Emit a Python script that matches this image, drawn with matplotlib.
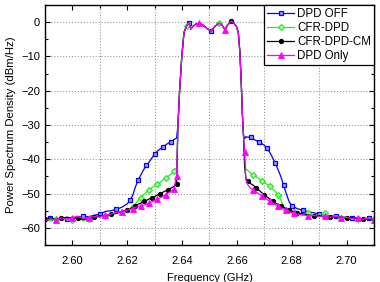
import numpy as np
import matplotlib
matplotlib.use("Agg")
import matplotlib.pyplot as plt
from matplotlib.ticker import MultipleLocator

# frequency grids (GHz)
left_f = [2.590, 2.592, 2.594, 2.596, 2.598, 2.600, 2.602, 2.604, 2.606, 2.608,
          2.610, 2.612, 2.614, 2.616, 2.618, 2.620, 2.621, 2.622, 2.623, 2.624,
          2.625, 2.626, 2.627, 2.628, 2.629, 2.630, 2.631, 2.632, 2.633, 2.634,
          2.635, 2.636, 2.637, 2.638]
edge_l_f = [2.6385, 2.6391, 2.6399, 2.6407]
band_f = [2.6417, 2.6425, 2.6432, 2.6440, 2.6450, 2.6463, 2.6475, 2.6490, 2.6506,
          2.6520, 2.6536, 2.6546, 2.6556, 2.6566, 2.6580, 2.6590, 2.6598]
edge_r_f = [2.6605, 2.6611, 2.6616, 2.6620, 2.6624]
right_f = [2.6628, 2.6633, 2.664, 2.665, 2.666, 2.667, 2.668, 2.669, 2.670, 2.671,
           2.672, 2.673, 2.674, 2.675, 2.676, 2.677, 2.678, 2.679, 2.680, 2.681,
           2.682, 2.684, 2.686, 2.688, 2.690, 2.692, 2.694, 2.696, 2.698, 2.700,
           2.702, 2.704, 2.706, 2.708, 2.710]

# in-band and edge levels (dBm/Hz), common to all curves
edge_l_db = [-30, -20, -10, -3]
band_db = [-1.0, -0.3, -2.0, -1.2, -0.6, -0.3, -0.8, -1.8, -2.6,
           -1.2, -0.3, -0.9, -2.2, -0.8, 0.3, -0.4, -1.2]
edge_r_db = [-3, -9, -18, -27, -33]

# out-of-band skirts per curve
off_left = [-57.8, -57.2, -57.6, -57.0, -57.3, -56.9, -57.1, -56.6, -56.8, -56.3,
            -56.0, -55.2, -55.0, -54.6, -54.0, -53.0, -52.0, -50.5, -48.0, -46.0,
            -44.5, -43.0, -41.8, -40.8, -39.6, -38.5, -37.6, -37.0, -36.5, -35.8,
            -35.3, -34.9, -34.3, -33.8]
off_right = [-34.0, -33.4, -33.6, -33.4, -34.2, -34.5, -35.0, -35.4, -35.9, -36.8,
             -38.0, -39.5, -41.2, -43.0, -45.0, -47.5, -50.0, -52.3, -53.5, -54.0,
             -54.4, -54.9, -55.3, -55.6, -56.0, -56.2, -56.5, -56.4, -56.8, -56.9,
             -57.1, -57.0, -57.4, -57.2, -57.6]

cfr_left = [-57.6, -57.9, -57.3, -57.8, -57.4, -57.6, -57.2, -57.9, -57.5, -56.9,
            -56.6, -56.4, -56.1, -55.7, -55.4, -54.9, -54.6, -53.8, -53.0, -52.0,
            -51.2, -50.3, -49.6, -48.9, -48.3, -47.8, -47.2, -46.7, -46.0, -45.5,
            -44.9, -44.3, -43.5, -42.5]
cfr_right = [-40.0, -42.8, -43.3, -44.0, -44.6, -45.1, -45.6, -46.2, -46.8, -47.3,
             -47.9, -48.6, -49.4, -50.3, -51.8, -53.8, -54.8, -55.2, -55.6, -55.4,
             -55.9, -56.3, -55.7, -56.6, -56.2, -55.8, -56.7, -56.4, -57.0, -56.8,
             -57.3, -57.5, -57.1, -57.6, -57.4]

cm_left = [-57.5, -57.1, -57.6, -57.2, -56.9, -57.3, -57.0, -57.6, -57.2, -56.8,
           -56.5, -56.6, -56.0, -55.8, -55.2, -54.8, -54.5, -54.0, -53.5, -53.1,
           -52.8, -52.3, -52.0, -51.6, -51.2, -50.9, -50.4, -50.0, -49.6, -49.2,
           -48.9, -48.4, -47.9, -47.2]
cm_right = [-42.0, -45.8, -46.4, -47.1, -47.6, -48.3, -49.0, -49.7, -50.4, -51.0,
            -51.6, -52.2, -52.7, -53.2, -53.6, -54.0, -54.4, -54.8, -55.1, -55.4,
            -55.6, -55.9, -56.2, -56.6, -56.4, -56.9, -56.7, -57.0, -56.8, -57.2,
            -57.0, -57.4, -57.3, -57.6, -57.5]

dpd_left = [-57.9, -57.4, -57.7, -57.1, -57.5, -57.0, -56.6, -57.3, -57.0, -56.7,
            -56.9, -56.3, -56.0, -55.5, -55.3, -54.8, -54.6, -54.4, -54.0, -53.8,
            -53.5, -53.4, -53.1, -52.7, -52.4, -52.0, -51.6, -51.2, -50.9, -50.3,
            -49.8, -49.3, -48.6, -45.0]
dpd_right = [-38.0, -46.0, -47.5, -48.4, -49.0, -49.5, -50.1, -50.6, -51.2, -51.7,
             -52.3, -52.8, -53.3, -53.7, -54.1, -54.5, -54.9, -55.2, -55.5, -55.7,
             -56.0, -56.2, -56.5, -56.3, -56.7, -56.5, -56.9, -56.6, -57.1, -56.9,
             -57.3, -57.0, -57.5, -57.2, -57.6]

labels = ['DPD OFF', 'CFR-DPD', 'CFR-DPD-CM', 'DPD Only']

freq = np.array(left_f + edge_l_f + band_f + edge_r_f + right_f)


def full_trace(left, right):
    return np.array(left + edge_l_db + band_db + edge_r_db + right)


series = [full_trace(off_left, off_right), full_trace(cfr_left, cfr_right),
          full_trace(cm_left, cm_right), full_trace(dpd_left, dpd_right)]

n_left = len(left_f)
n_band0 = n_left + len(edge_l_f)
n_right0 = n_band0 + len(band_f) + len(edge_r_f)


def marker_idx(off, band_pts, extra=()):
    idx = list(range(off, n_left, 3)) + [n_band0 + b for b in band_pts]
    idx += list(range(n_right0 + 2 + off, len(freq), 3)) + list(extra)
    return sorted(set(idx))


marks = [marker_idx(1, [1, 8]), marker_idx(2, [0, 10]),
         marker_idx(0, [14]), marker_idx(2, [5, 12], extra=[n_left - 1, n_right0])]

plt.rcParams['font.family'] = ['Liberation Sans', 'DejaVu Sans']
plt.rcParams['font.size'] = 8

fig = plt.figure(figsize=(3.8, 2.82), dpi=100)
ax = fig.add_axes([0.1184, 0.1312, 0.8658, 0.8511])

styles = [
    dict(color='#0000ff', marker='s', mfc='#9999ff', mec='#0000ff', ms=3.2, mew=0.9),
    dict(color='#22ee22', marker='D', mfc='#aaffaa', mec='#22ee22', ms=3.0, mew=0.9),
    dict(color='black', marker='o', mfc='black', mec='black', ms=3.2, mew=0.6),
    dict(color='#ff00ff', marker='^', mfc='#ff00ff', mec='#ff00ff', ms=3.8, mew=0.6),
]

for y, lab, st, mk in zip(series, labels, styles, marks):
    ax.plot(freq, y, lw=0.9, label=lab, markevery=mk, **st)

ax.set_xlim(2.59, 2.71)
ax.set_ylim(-65, 5)
ax.xaxis.set_minor_locator(MultipleLocator(0.01))
ax.yaxis.set_minor_locator(MultipleLocator(5))
ax.set_xticks([2.60, 2.62, 2.64, 2.66, 2.68, 2.70])
ax.set_xticklabels(['2.60', '2.62', '2.64', '2.66', '2.68', '2.70'])
ax.set_yticks(range(-60, 1, 10))

ax.tick_params(which='both', direction='in', top=True, right=True)
ax.tick_params(which='major', length=3.5, width=0.8)
ax.tick_params(which='minor', length=2, width=0.8)
ax.tick_params(axis='x', pad=8)

ax.grid(True, which='major', axis='y', linestyle=':', color='#999999', lw=0.8)
ax.grid(True, which='minor', axis='x', linestyle=':', color='#999999', lw=0.8)
ax.set_axisbelow(True)

for s in ax.spines.values():
    s.set_linewidth(1.0)

ax.set_xlabel('Frequency (GHz)', labelpad=5)
ax.set_ylabel('Power Spectrum Density (dBm/Hz)', labelpad=4, fontsize=8.2)

leg = ax.legend(loc='upper right', borderaxespad=0, fancybox=False,
                framealpha=1, edgecolor='black', handlelength=2.35,
                handletextpad=0.25, labelspacing=0.18, borderpad=0.25,
                prop={'size': 8.3})
leg.get_frame().set_linewidth(0.9)

fig.savefig('out.png', dpi=100)
